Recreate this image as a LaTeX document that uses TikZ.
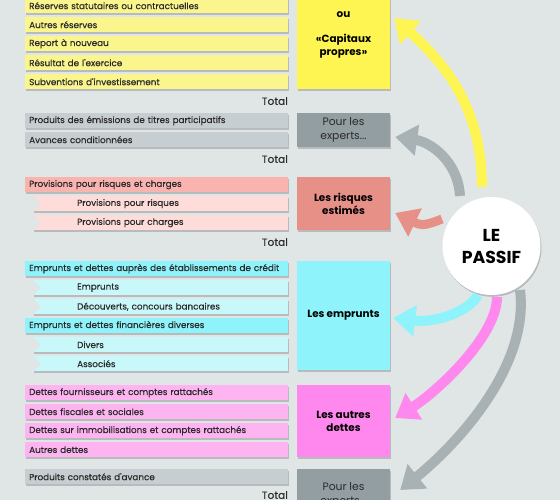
\documentclass[tikz,border=0pt]{standalone}
\usepackage{fontspec}
\setmainfont{Poppins}
\newfontfamily\rowfont{Poppins}[FakeBold=0.35]
\usepackage{xcolor}
\usepackage{tikz}
\usetikzlibrary{positioning, arrows.meta, calc, shadows}

\definecolor{fond}{HTML}{E0E5E6}
\definecolor{texte}{HTML}{2A2A2A}
\definecolor{jauneclair}{HTML}{FAF58C}
\definecolor{jaune}{HTML}{FFF552}
\definecolor{grisclair}{HTML}{C7CED1}
\definecolor{gris}{HTML}{929EA2}
\definecolor{grisfleche}{HTML}{A8B2B5}
\definecolor{saumonclair}{HTML}{F9B4B0}
\definecolor{saumonpale}{HTML}{FDDCDA}
\definecolor{saumon}{HTML}{E69088}
\definecolor{turquoise}{HTML}{8EF3FA}
\definecolor{turquoisepale}{HTML}{C9F8FA}
\definecolor{roseclair}{HTML}{FDB4F1}
\definecolor{rose}{HTML}{FF88EE}

\begin{document}
\begin{tikzpicture}[
  x=1pt, y=-1pt,
  ombre/.style={drop shadow={shadow xshift=1pt, shadow yshift=-1.8pt,
    fill=black, opacity=0.18}},
  row/.style={anchor=north west, minimum height=15pt, text width=255pt,
    inner xsep=4pt, inner ysep=0pt, align=left, text=texte,
    font=\rowfont\fontsize{8.8}{10}\selectfont, ombre},
  subrow/.style={row, text width=247pt,
    execute at begin node=\hspace*{40pt},
    path picture={\fill[fond] (path picture bounding box.north west)
      -- ([xshift=8pt]path picture bounding box.west)
      -- (path picture bounding box.south west) -- cycle;}},
  total/.style={anchor=east, inner sep=0pt, text=texte,
    font=\rowfont\fontsize{10.5}{12}\selectfont},
  box/.style={minimum width=93pt, inner sep=2pt, align=center, ombre,
    font=\bfseries\fontsize{10.4}{13}\selectfont},
  expert/.style={box, fill=gris, text=texte,
    font=\fontsize{10.8}{14}\selectfont},
  fleche/.style={line width=10pt, -{Triangle[length=22pt, width=30pt]}},
]
  \fill[fond] (0,0) rectangle (560,500);
  \useasboundingbox (0,0) rectangle (560,500);

  % Capitaux propres
  \node[row, fill=jauneclair] (res1) at (25,-2) {Réserves statutaires ou contractuelles};
  \node[row, fill=jauneclair] (res2) at (25,17) {Autres réserves};
  \node[row, fill=jauneclair] (rep) at (25,36) {Report à nouveau};
  \node[row, fill=jauneclair] (resu) at (25,55) {Résultat de l'exercice};
  \node[row, fill=jauneclair] (subv) at (25,74) {Subventions d'investissement};
  \node[total] (tot1) at (288,101) {Total};

  % Autres fonds propres
  \node[row, fill=grisclair] (emis) at (25,113) {Produits des émissions de titres participatifs};
  \node[row, fill=grisclair] (avan) at (25,132) {Avances conditionnées};
  \node[total] (tot2) at (288,159) {Total};

  % Provisions
  \node[row, fill=saumonclair] (prov) at (25,177) {Provisions pour risques et charges};
  \node[subrow, fill=saumonpale] (provr) at (33,196) {Provisions pour risques};
  \node[subrow, fill=saumonpale] (provc) at (33,215) {Provisions pour charges};
  \node[total] (tot3) at (288,242) {Total};

  % Dettes financieres
  \node[row, fill=turquoise] (etab) at (25,261) {Emprunts et dettes auprès des établissements de crédit};
  \node[subrow, fill=turquoisepale] (empr1) at (33,280) {Emprunts};
  \node[subrow, fill=turquoisepale] (decou) at (33,299) {Découverts, concours bancaires};
  \node[row, fill=turquoise] (divs) at (25,318) {Emprunts et dettes financières diverses};
  \node[subrow, fill=turquoisepale] (divers) at (33,337) {Divers};
  \node[subrow, fill=turquoisepale] (assoc) at (33,356) {Associés};

  % Autres dettes
  \node[row, fill=roseclair] (fourn) at (25,385) {Dettes fournisseurs et comptes rattachés};
  \node[row, fill=roseclair] (fisc) at (25,404) {Dettes fiscales et sociales};
  \node[row, fill=roseclair] (immo) at (25,423) {Dettes sur immobilisations et comptes rattachés};
  \node[row, fill=roseclair] (autr) at (25,442) {Autres dettes};
  \node[row, fill=grisclair] (pca) at (25,469) {Produits constatés d'avance};
  \node[total] (tot4) at (288,495) {Total};

  % Right column
  \node[box, fill=jaune, minimum height=108pt] (cap) at (343.5,35)
    {ou\\[12pt]«Capitaux\\propres»};
  \node[expert, minimum height=34pt] (expA) at (343.5,130) {Pour les\\experts...};
  \node[box, fill=saumon, minimum height=53pt] (risk) at (343.5,203.5) {Les risques\\estimés};
  \node[box, fill=turquoise, minimum height=109pt] (empr) at (343.5,315.5) {Les emprunts};
  \node[box, fill=rose, minimum height=72pt] (dett) at (343.5,421) {Les autres\\dettes};
  \node[expert, minimum height=52pt] (expB) at (343.5,495) {Pour les\\experts...};

  % Le passif
  \node[circle, fill=white, minimum size=98pt, align=center, text=black,
    font=\bfseries\fontsize{17.3}{22}\selectfont, ombre] (passif) at (491.5,246) {LE\\PASSIF};

  % Arrows
  \draw[fleche, jaune] ($(passif)+(-9.5,-59)$) .. controls +(0,-80) and +(50,45) .. ([shift={(4,-17)}]cap.east);
  \draw[fleche, grisfleche] ($(passif)+(-31.5,-50)$) .. controls +(-2,-35) and +(35,5) .. ([shift={(5,7)}]expA.east);
  \draw[fleche, saumon, line width=9pt] ($(passif)+(-49.5,-27)$) .. controls +(-20,8) and +(25,12) .. ([shift={(5,9.5)}]risk.east);
  \draw[fleche, turquoise] ($(passif)+(-13.5,49)$) .. controls +(-10,18) and +(40,5) .. ([shift={(3,2.5)}]empr.east);
  \draw[fleche, rose] ($(passif)+(5.5,51)$) .. controls +(0,40) and +(40,-25) .. ([shift={(5,-3)}]dett.east);
  \draw[fleche, grisfleche] ($(passif)+(28.5,44)$) .. controls +(10,80) and +(50,-40) .. ([shift={(10,-5)}]expB.east);
\end{tikzpicture}
\end{document}
